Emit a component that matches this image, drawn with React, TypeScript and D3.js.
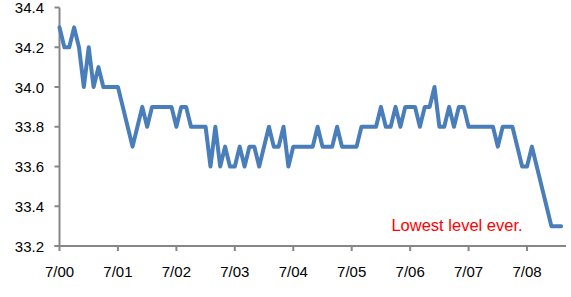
import React from "react";
import * as d3 from "d3";

const values: number[] = [
  34.3, 34.2, 34.2, 34.3, 34.2, 34.0, 34.2, 34.0, 34.1, 34.0, 34.0, 34.0,
  34.0, 33.9, 33.8, 33.7, 33.8, 33.9, 33.8, 33.9, 33.9, 33.9, 33.9, 33.9,
  33.8, 33.9, 33.9, 33.8, 33.8, 33.8, 33.8, 33.6, 33.8, 33.6, 33.7, 33.6,
  33.6, 33.7, 33.6, 33.7, 33.7, 33.6, 33.7, 33.8, 33.7, 33.7, 33.8, 33.6,
  33.7, 33.7, 33.7, 33.7, 33.7, 33.8, 33.7, 33.7, 33.7, 33.8, 33.7, 33.7,
  33.7, 33.7, 33.8, 33.8, 33.8, 33.8, 33.9, 33.8, 33.8, 33.9, 33.8, 33.9,
  33.9, 33.9, 33.8, 33.9, 33.9, 34.0, 33.8, 33.8, 33.9, 33.8, 33.9, 33.9,
  33.8, 33.8, 33.8, 33.8, 33.8, 33.8, 33.7, 33.8, 33.8, 33.8, 33.7, 33.6,
  33.6, 33.7, 33.6, 33.5, 33.4, 33.3, 33.3, 33.3,
];

const xTickLabels = ["7/00", "7/01", "7/02", "7/03", "7/04", "7/05", "7/06", "7/07", "7/08"];
const yTicks = [33.2, 33.4, 33.6, 33.8, 34.0, 34.2, 34.4];
const note = "Lowest level ever.";

export default function App() {
  const W = 571;
  const H = 297;
  const x = d3.scaleLinear().domain([0, 104]).range([59.5, 566]);
  const y = d3.scaleLinear().domain([33.2, 34.4]).range([246, 7.5]);
  const line = d3
    .line<number>()
    .x((_, i) => x(i))
    .y((d) => y(d));
  const axisColor = "#868686";
  const font = "'Liberation Sans', Arial, sans-serif";

  return (
    <svg
      width={W}
      height={H}
      style={{ position: "absolute", left: 0, top: 0, background: "#fff" }}
    >
      {/* y axis */}
      <line x1={x(0)} x2={x(0)} y1={y(34.4)} y2={y(33.2)} stroke={axisColor} strokeWidth={2} />
      {yTicks.map((t) => (
        <g key={t}>
          <line x1={x(0) - 5} x2={x(0)} y1={y(t)} y2={y(t)} stroke={axisColor} strokeWidth={2} />
          <text
            x={44}
            y={y(t)}
            textAnchor="end"
            dominantBaseline="central"
            fontFamily={font}
            fontSize={15}
            fill="#000"
          >
            {t.toFixed(1)}
          </text>
        </g>
      ))}
      {/* x axis */}
      <line x1={x(0) - 5} x2={x(104)} y1={y(33.2)} y2={y(33.2)} stroke={axisColor} strokeWidth={2} />
      {xTickLabels.map((lab, k) => (
        <g key={lab}>
          <line
            x1={x(k * 12)}
            x2={x(k * 12)}
            y1={y(33.2)}
            y2={y(33.2) + 5}
            stroke={axisColor}
            strokeWidth={2}
          />
          <text
            x={x(k * 12)}
            y={271}
            textAnchor="middle"
            dominantBaseline="central"
            fontFamily={font}
            fontSize={15}
            fill="#000"
          >
            {lab}
          </text>
        </g>
      ))}
      {/* series */}
      <path
        d={line(values) || ""}
        fill="none"
        stroke="#4A7EBB"
        strokeWidth={4}
        strokeLinejoin="round"
        strokeLinecap="round"
      />
      <text
        x={457}
        y={225}
        textAnchor="middle"
        dominantBaseline="central"
        fontFamily={font}
        fontSize={16.5}
        fill="#FF0000"
      >
        {note}
      </text>
    </svg>
  );
}
